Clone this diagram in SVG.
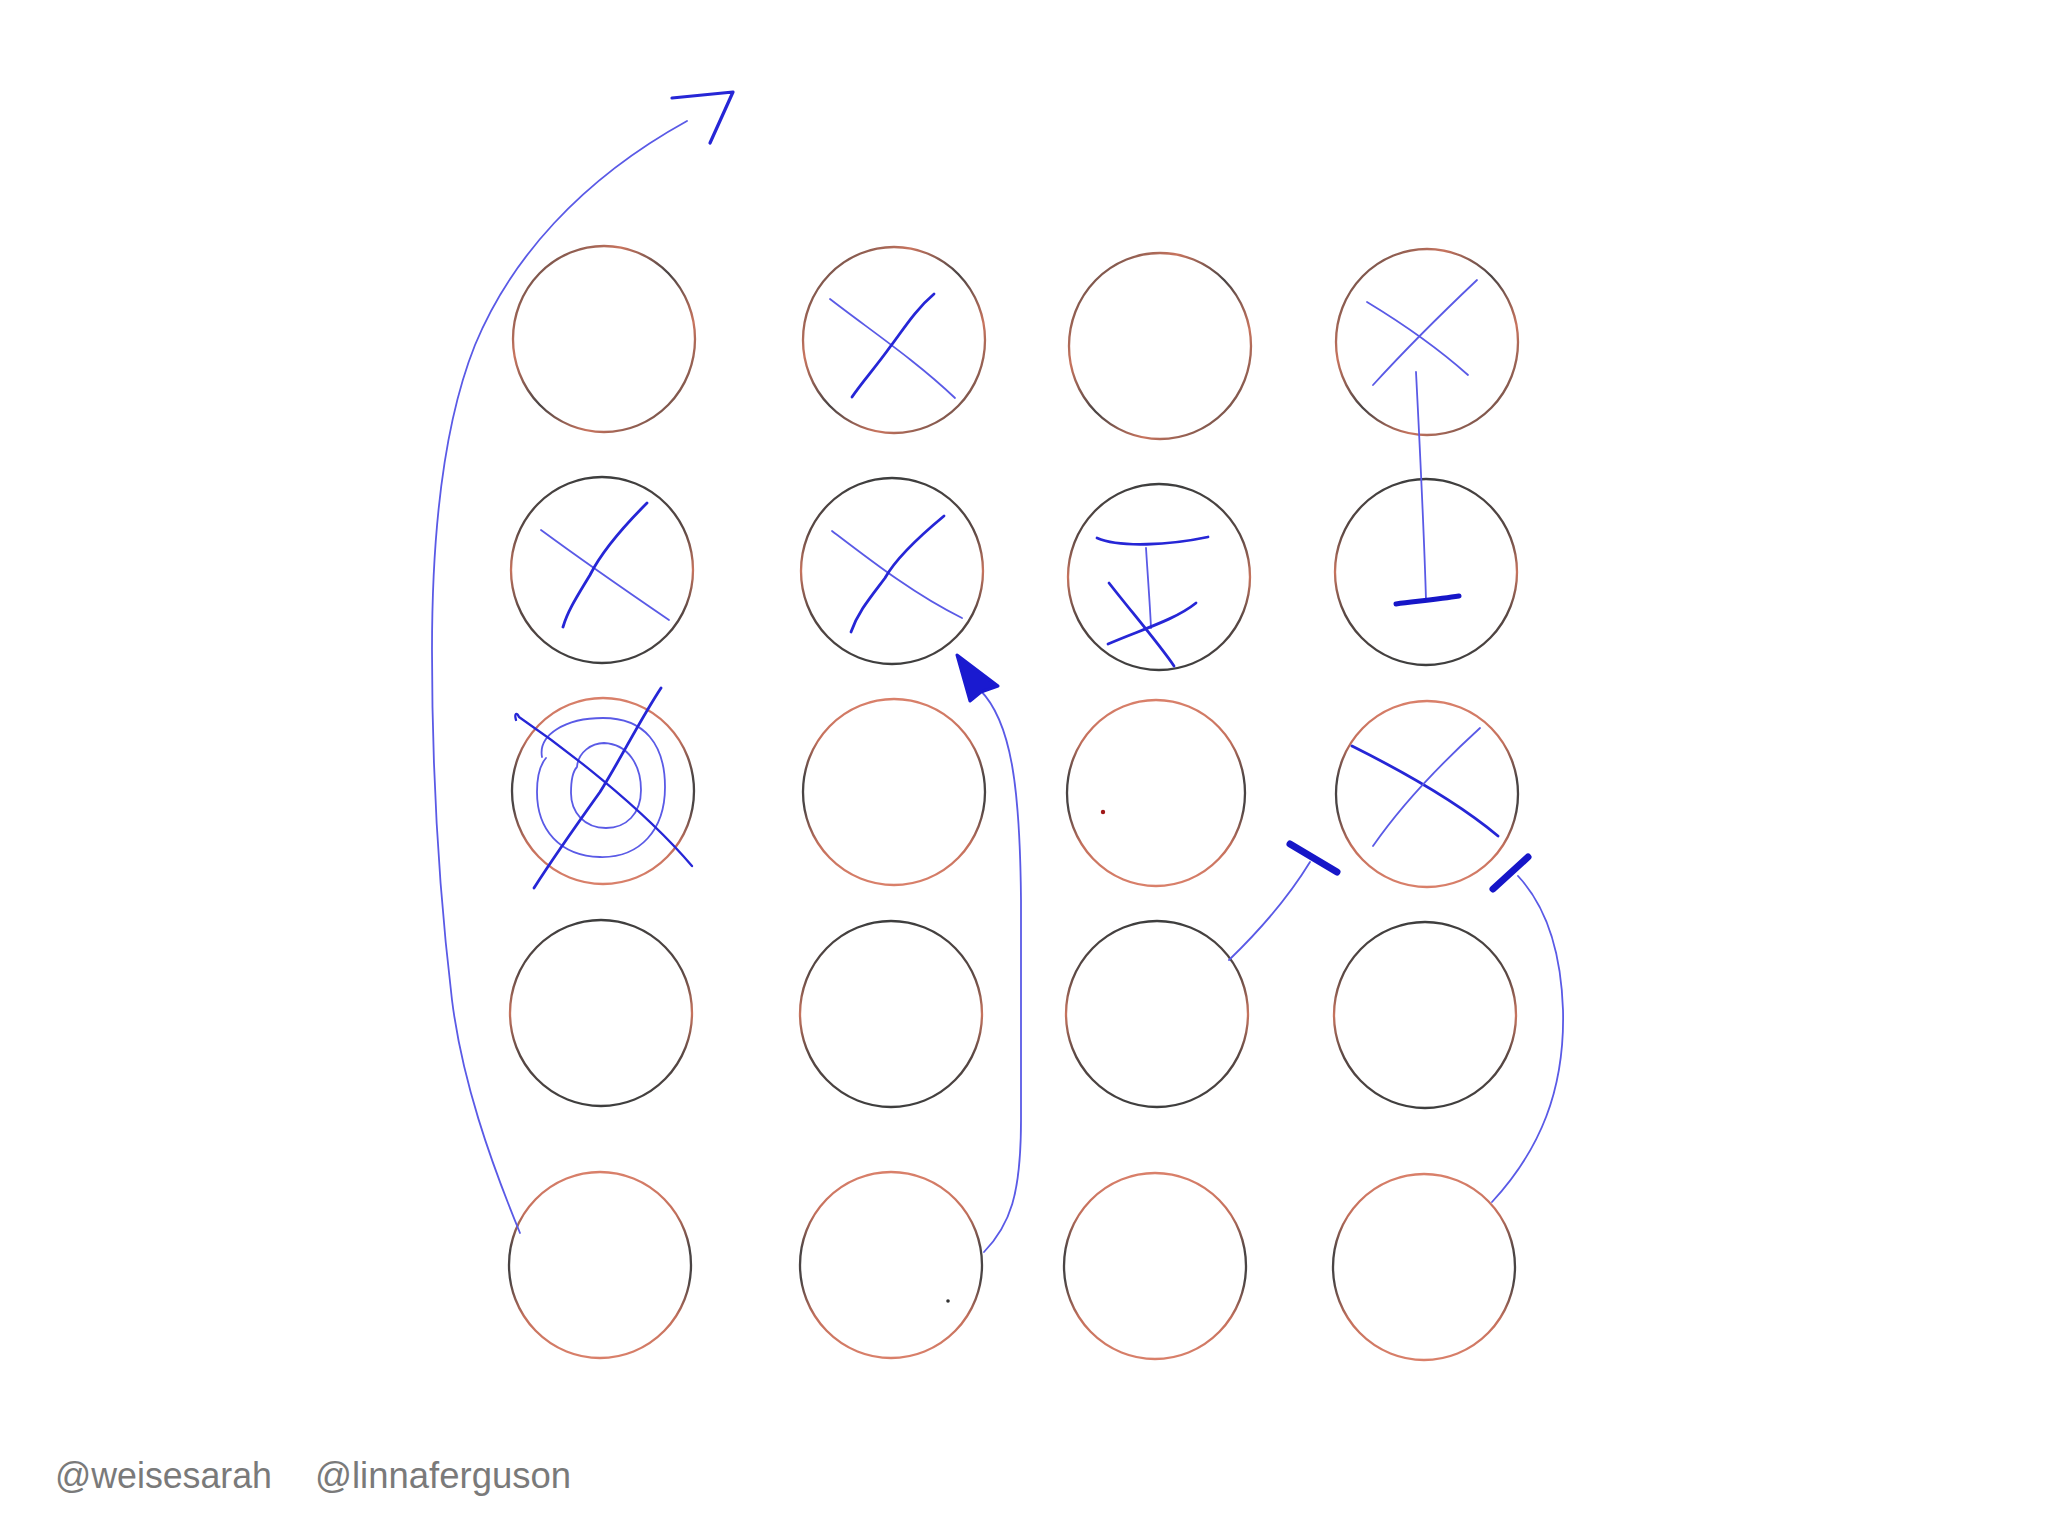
<svg xmlns="http://www.w3.org/2000/svg" width="2048" height="1536" viewBox="0 0 2048 1536">
<defs>
<linearGradient id="ringA" x1="0" y1="0" x2="0" y2="1">
<stop offset="0" stop-color="#d9806a"/><stop offset="0.22" stop-color="#c4705c"/><stop offset="0.42" stop-color="#4a4444"/><stop offset="0.58" stop-color="#4a4444"/><stop offset="0.78" stop-color="#c4705c"/><stop offset="1" stop-color="#d9806a"/>
</linearGradient>
<linearGradient id="ringB" x1="0" y1="0" x2="0" y2="1">
<stop offset="0" stop-color="#3e3e3e"/><stop offset="0.28" stop-color="#5a4844"/><stop offset="0.5" stop-color="#c8745e"/><stop offset="0.72" stop-color="#5a4844"/><stop offset="1" stop-color="#3e3e3e"/>
</linearGradient>
<linearGradient id="ringC" x1="0" y1="0" x2="1" y2="1">
<stop offset="0" stop-color="#3e3e3e"/><stop offset="0.3" stop-color="#c8745e"/><stop offset="0.5" stop-color="#4a4444"/><stop offset="0.7" stop-color="#c8745e"/><stop offset="1" stop-color="#3e3e3e"/>
</linearGradient>
</defs>
<style>
.ring{fill:none;stroke-width:2.3}
.a{stroke:url(#ringA)}
.b{stroke:url(#ringB)}
.c{stroke:url(#ringC)}
.pen{fill:none;stroke:#2626d6;stroke-width:2.8;stroke-linecap:round;stroke-linejoin:round}
.thin{fill:none;stroke:#5a5ae6;stroke-width:1.8;stroke-linecap:round;stroke-linejoin:round}
.bar{fill:none;stroke:#1616c8;stroke-width:7;stroke-linecap:round}
.label{font-family:"Liberation Sans","Open Sans",sans-serif;font-size:36px;fill:#7a7a7a}
</style>
<rect x="0" y="0" width="2048" height="1536" fill="#ffffff"/>

<g id="r1c1"><ellipse class="ring c" cx="604" cy="339" rx="91" ry="93"/></g>
<g id="r1c2"><ellipse class="ring c" cx="894" cy="340" rx="91" ry="93"/>
<path class="thin" d="M830,299 C870,330 915,360 955,398"/>
<path class="pen" d="M934,294 C915,310 903,330 890,347 C875,368 862,382 852,397"/></g>
<g id="r1c3"><ellipse class="ring c" cx="1160" cy="346" rx="91" ry="93"/></g>
<g id="r1c4"><ellipse class="ring c" cx="1427" cy="342" rx="91" ry="93"/>
<path class="thin" d="M1367,302 C1400,322 1440,350 1468,375"/>
<path class="thin" d="M1477,280 C1440,315 1405,350 1373,385"/></g>

<g id="r2c1"><ellipse class="ring b" cx="602" cy="570" rx="91" ry="93"/>
<path class="thin" d="M541,530 C575,555 625,590 669,620"/>
<path class="pen" d="M647,503 C620,530 600,555 590,575 C578,595 568,610 563,627"/></g>
<g id="r2c2"><ellipse class="ring b" cx="892" cy="571" rx="91" ry="93"/>
<path class="thin" d="M832,531 C870,560 915,595 962,618"/>
<path class="pen" d="M944,516 C915,540 895,560 885,578 C870,598 858,612 851,632"/></g>
<g id="r2c3"><ellipse class="ring b" cx="1159" cy="577" rx="91" ry="93"/>
<path class="pen" d="M1097,538 C1120,548 1170,545 1208,537"/>
<path class="thin" d="M1146,548 C1148,580 1150,605 1151,628"/>
<path class="pen" d="M1109,583 C1130,610 1160,645 1174,666"/>
<path class="pen" d="M1108,644 C1140,630 1175,620 1196,603"/></g>
<g id="r2c4"><ellipse class="ring b" cx="1426" cy="572" rx="91" ry="93"/>
<path class="thin" d="M1416,372 C1420,450 1424,530 1426,600"/>
<path class="bar" d="M1396,604 C1420,601 1440,599 1459,596" style="stroke-width:5"/></g>

<g id="r3c1"><ellipse class="ring a" cx="603" cy="791" rx="91" ry="93"/>
<path class="thin" d="M542,757 C538,735 565,718 603,718 C645,718 665,745 665,787 C665,830 640,858 600,857 C560,856 537,830 537,792 C537,775 540,765 546,758"/>
<path class="thin" d="M577,767 C578,752 592,743 604,743 C628,744 641,765 641,790 C641,814 626,828 606,828 C584,828 571,812 571,793 C571,780 573,771 577,767"/>
<path class="pen" d="M516,720 C514,713 517,712 519,717 C560,745 640,805 692,866" style="stroke-width:2.3"/>
<path class="pen" d="M661,688 C640,720 620,760 600,792 C580,820 555,855 534,888"/></g>
<g id="r3c2"><ellipse class="ring a" cx="894" cy="792" rx="91" ry="93"/></g>
<g id="r3c3"><ellipse class="ring a" cx="1156" cy="793" rx="89" ry="93"/>
<circle cx="1103" cy="812" r="2.2" fill="#a01818"/></g>
<g id="r3c4"><ellipse class="ring a" cx="1427" cy="794" rx="91" ry="93"/>
<path class="pen" d="M1352,746 C1400,770 1455,800 1498,836"/>
<path class="thin" d="M1480,728 C1445,760 1405,800 1373,846"/></g>

<g id="r4c1"><ellipse class="ring b" cx="601" cy="1013" rx="91" ry="93"/></g>
<g id="r4c2"><ellipse class="ring b" cx="891" cy="1014" rx="91" ry="93"/></g>
<g id="r4c3"><ellipse class="ring b" cx="1157" cy="1014" rx="91" ry="93"/></g>
<g id="r4c4"><ellipse class="ring b" cx="1425" cy="1015" rx="91" ry="93"/></g>

<g id="r5c1"><ellipse class="ring a" cx="600" cy="1265" rx="91" ry="93"/></g>
<g id="r5c2"><ellipse class="ring a" cx="891" cy="1265" rx="91" ry="93"/>
<circle cx="948" cy="1301" r="1.8" fill="#333"/></g>
<g id="r5c3"><ellipse class="ring a" cx="1155" cy="1266" rx="91" ry="93"/></g>
<g id="r5c4"><ellipse class="ring a" cx="1424" cy="1267" rx="91" ry="93"/></g>

<g id="connectors">
<path class="thin" d="M520,1233 C490,1160 462,1080 452,1000 C440,900 432,780 432,650 C432,520 445,420 475,345 C510,260 580,180 687,121"/>
<path class="pen" d="M672,98 L733,92 L710,143" style="stroke-width:3.2"/>
<path class="thin" d="M984,1252 C1010,1225 1021,1195 1021,1120 L1021,900 C1020,790 1012,722 980,690"/>
<path d="M957,655 L970,701 L981,692 L998,686 Z" fill="#1a1ad0" stroke="#1a1ad0" stroke-width="3" stroke-linejoin="round"/>
<path class="thin" d="M1229,960 C1258,932 1288,898 1310,862"/>
<path class="bar" d="M1290,844 L1337,872"/>
<path class="thin" d="M1492,1202 C1540,1150 1565,1090 1563,1010 C1561,950 1545,905 1518,876"/>
<path class="bar" d="M1493,889 L1528,857"/>
</g>

<text class="label" x="55" y="1488" textLength="217" lengthAdjust="spacingAndGlyphs">@weisesarah</text>
<text class="label" x="315" y="1488" textLength="256" lengthAdjust="spacingAndGlyphs">@linnaferguson</text>
</svg>
